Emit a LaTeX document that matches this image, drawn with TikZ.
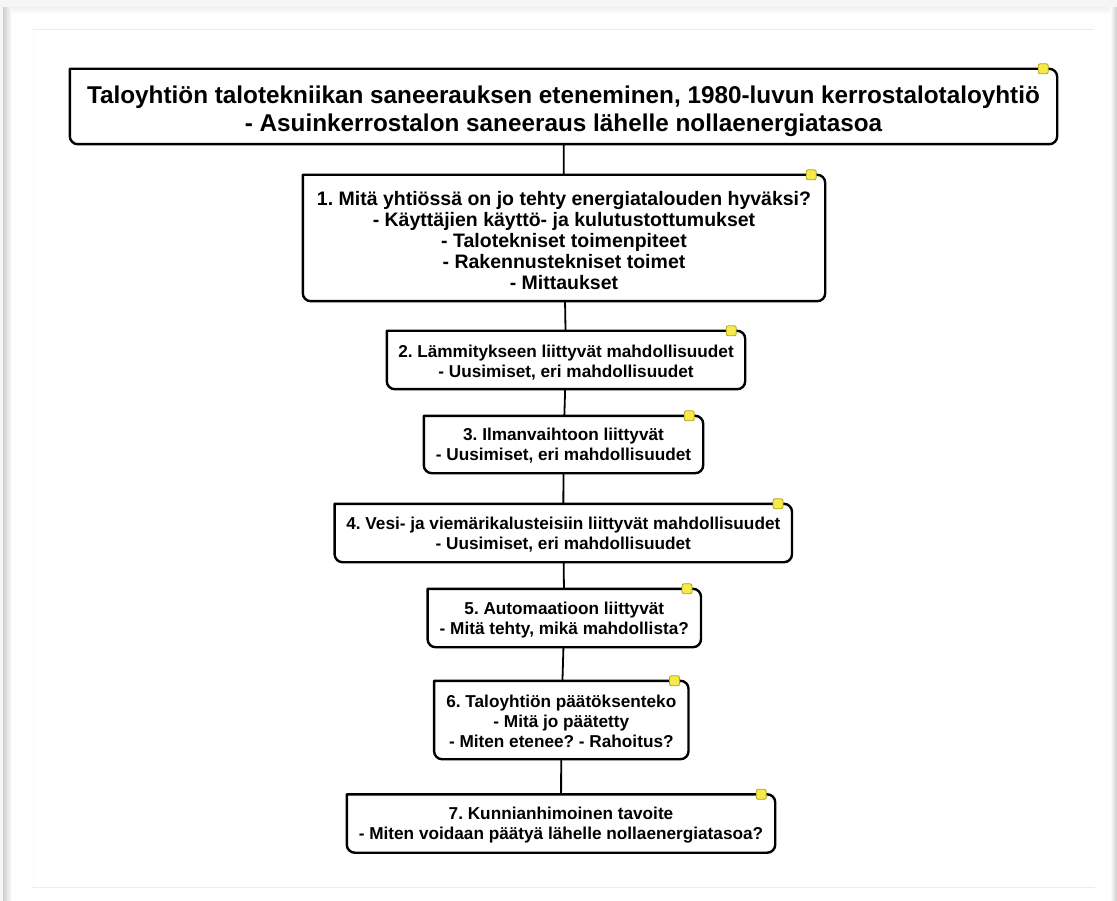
\documentclass[tikz,border=0pt]{standalone}
\usepackage{fontspec}
\setmainfont{Liberation Sans}
\usetikzlibrary{calc}
\definecolor{markfill}{HTML}{F4EA4C}
\definecolor{markdraw}{HTML}{B0A21A}
\definecolor{pageline}{HTML}{ECECEC}

\tikzset{
  plate/.style={inner sep=0pt, rectangle},
  stage/.style={inner sep=0pt, align=center, font=\fontsize{17.2}{20}\selectfont\bfseries},
  headline/.style={stage, font=\fontsize{24.3}{28}\selectfont\bfseries},
  leadstage/.style={stage, font=\fontsize{19.5}{21}\selectfont\bfseries},
  frameline/.style={draw=black, line width=2.4pt, line join=round},
  link/.style={draw=black, line width=1.8pt},
  marker/.style={draw=markdraw, fill=markfill, line width=0.8pt, rounded corners=2pt,
                 minimum size=10pt, inner sep=0pt},
}

% frame with a square top-left corner and rounded other corners, plus the note tag
\newcommand\stageframe[1]{%
  \draw[frameline] (#1.north west) -- ([xshift=-8pt]#1.north east)
    arc[start angle=90, end angle=0, radius=8pt] -- ([yshift=8pt]#1.south east)
    arc[start angle=0, end angle=-90, radius=8pt] -- ([xshift=8pt]#1.south west)
    arc[start angle=-90, end angle=-180, radius=8pt] -- cycle;
  \node[marker] (#1tag) at ([xshift=-14pt]#1.north east) {};
}

\begin{document}
\frenchspacing
\begin{tikzpicture}[x=1pt, y=-1pt]
  \useasboundingbox (0,0) rectangle (1117,901);
  % page background and its shadows
  \fill[white] (0,0) rectangle (1117,901);
  \fill[gray!7] (0,0) rectangle (1117,8);
  \fill[gray!7] (0,0) rectangle (3,901);
  \shade[left color=gray!38, right color=white] (3,8) rectangle (12,901);
  \shade[top color=gray!10, bottom color=white] (12,8) rectangle (1112,14);
  \shade[left color=white, right color=gray!40] (1110,8) rectangle (1117,901);
  % page rules
  \draw[pageline, line width=1pt] (33,30) -- (1094,30);
  \draw[pageline, line width=1pt] (32,887) -- (1095,887);
  \draw[gray!4, line width=0.8pt] (33,30) -- (33,887);

  % stage plates
  \node[plate, minimum width=987pt, minimum height=75pt]  (t)  at (563.5,106.5) {};
  \node[plate, minimum width=522pt, minimum height=126pt] (s1) at (564,238) {};
  \node[plate, minimum width=358pt, minimum height=58pt]  (s2) at (566,360) {};
  \node[plate, minimum width=279pt, minimum height=57pt]  (s3) at (563.5,444.5) {};
  \node[plate, minimum width=457pt, minimum height=58pt]  (s4) at (563.3,533) {};
  \node[plate, minimum width=273pt, minimum height=58pt]  (s5) at (564.3,618) {};
  \node[plate, minimum width=254pt, minimum height=78pt]  (s6) at (561.3,720) {};
  \node[plate, minimum width=428pt, minimum height=58pt]  (s7) at (561,823.5) {};

  % connectors
  \draw[link] (t) -- (s1);
  \draw[link] (s1) -- (s2);
  \draw[link] (s2) -- (s3);
  \draw[link] (s3) -- (s4);
  \draw[link] (s4) -- (s5);
  \draw[link] (s5) -- (s6);
  \draw[link] (s6) -- (s7);

  % frames and tags
  \stageframe{t}
  \stageframe{s1}
  \stageframe{s2}
  \stageframe{s3}
  \stageframe{s4}
  \stageframe{s5}
  \stageframe{s6}
  \stageframe{s7}

  % stage texts
  \node[headline] (t-text) at ([yshift=-4.5pt]t.center)
    {Taloyhtiön talotekniikan saneerauksen eteneminen, 1980-luvun kerrostalotaloyhtiö\\
     - Asuinkerrostalon saneeraus lähelle nollaenergiatasoa};
  \node[leadstage] (s1-text) at ([yshift=-3pt]s1.center)
    {1. Mitä yhtiössä on jo tehty energiatalouden hyväksi?\\
     - Käyttäjien käyttö- ja kulutustottumukset\\
     - Talotekniset toimenpiteet\\
     - Rakennustekniset toimet\\
     - Mittaukset};
  \node[stage] (s2-text) at ([yshift=-2.5pt]s2.center)
    {2. Lämmitykseen liittyvät mahdollisuudet\\ - Uusimiset, eri mahdollisuudet};
  \node[stage] (s3-text) at ([yshift=-1.5pt]s3.center)
    {3. Ilmanvaihtoon liittyvät\\ - Uusimiset, eri mahdollisuudet};
  \node[stage] (s4-text) at ([yshift=-1.5pt]s4.center)
    {4. Vesi- ja viemärikalusteisiin liittyvät mahdollisuudet\\ - Uusimiset, eri mahdollisuudet};
  \node[stage] (s5-text) at ([yshift=-2pt]s5.center)
    {5. Automaatioon liittyvät\\ - Mitä tehty, mikä mahdollista?};
  \node[stage] (s6-text) at ([yshift=-1pt]s6.center)
    {6. Taloyhtiön päätöksenteko\\ - Mitä jo päätetty\\ - Miten etenee? - Rahoitus?};
  \node[stage] (s7-text) at ([yshift=-2pt]s7.center)
    {7. Kunnianhimoinen tavoite\\ - Miten voidaan päätyä lähelle nollaenergiatasoa?};
\end{tikzpicture}
\end{document}
